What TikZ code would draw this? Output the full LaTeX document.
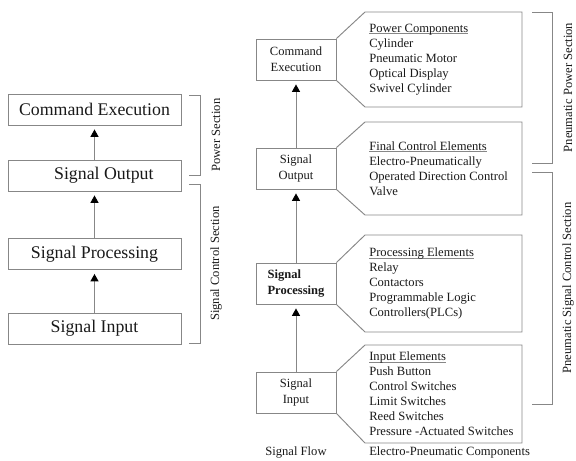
\documentclass[tikz,border=0pt]{standalone}
\usepackage{fontspec}
\setmainfont{Liberation Serif}
\usetikzlibrary{arrows.meta}
\definecolor{linegray}{RGB}{135,135,135}
\definecolor{inkc}{RGB}{25,25,25}
\newcommand\myul[1]{\setbox0\hbox{#1}\rlap{\color{linegray}\rule[-1.4pt]{\wd0}{0.5pt}}\box0}
\begin{document}
\begin{tikzpicture}[x=0.75pt,y=-0.75pt,
  every node/.style={text=inkc},
  lbox/.style={draw=linegray, line width=0.7pt, minimum width=129.75pt, minimum height=23.25pt, inner sep=0pt, font=\fontsize{13.35}{16}\selectfont},
  rbox/.style={draw=linegray, line width=0.7pt, minimum width=60pt, minimum height=30.75pt, inner sep=0pt, align=center, font=\fontsize{9.4}{12}\selectfont},
  callout/.style={draw=linegray, line width=0.7pt},
  ctext/.style={anchor=west, align=left, inner sep=0pt, font=\fontsize{9.45}{11.3}\selectfont},
  small/.style={inner sep=0pt, font=\fontsize{9.45}{11.3}\selectfont},
  bracket/.style={draw=linegray, line width=0.7pt},
  flow/.style={draw=linegray, line width=0.7pt, shorten >=3pt, -{Triangle[color=black, width=6pt, length=5.5pt]}}
]
\useasboundingbox (0,0) rectangle (576,461);

% ---- left: signal flow ----
\node[lbox] (lce) at (94.5,109.5) {Command Execution};
\node[lbox] (lso) at (94.5,175.5) {\hspace*{14pt}Signal Output};
\node[lbox] (lsp) at (94.5,254) {Signal Processing};
\node[lbox] (lsi) at (94.5,328.5) {Signal Input};
\draw[flow] (lso.north) -- (lce.south);
\draw[flow] (lsp.north) -- (lso.south);
\draw[flow] (lsi.north) -- (lsp.south);

\draw[bracket] (189,95) -- (200,95) -- (200,175) -- (189,175);
\draw[bracket] (189,184) -- (200,184) -- (200,343) -- (189,343);
\node[small, rotate=90] (lpow) at (216,135) {Power Section};
\node[small, rotate=90] (lsig) at (216,263.5) {Signal Control Section};

% ---- right: boxes ----
\node[rbox] (rce) at (296,59.5) {Command\\Execution};
\node[rbox] (rso) at (296,168.5) {Signal\\Output};
\node[rbox, align=left, font=\fontsize{9.4}{12}\selectfont\bfseries] (rsp) at (296,283.5) {Signal\\Processing};
\node[rbox] (rsi) at (296,392.5) {Signal\\Input};
\draw[flow] (rso.north) -- (rce.south);
\draw[flow] (rsp.north) -- (rso.south);
\draw[flow] (rsi.north) -- (rsp.south);

% ---- callouts ----
\draw[callout] (rce.north east) -- (365,12) -- (522,12) -- (522,107) -- (365,107) -- (rce.south east);
\draw[callout] (rso.north east) -- (365,122) -- (522,122) -- (522,215) -- (365,215) -- (rso.south east);
\draw[callout] (rsp.north east) -- (365,235) -- (522,235) -- (522,332) -- (365,332) -- (rsp.south east);
\draw[callout] (rsi.north east) -- (365,345) -- (522,345) -- (522,443) -- (365,443) -- (rsi.south east);

\node[ctext] (t1) at (369,59.5) {\myul{Power Components}\\Cylinder\\Pneumatic Motor\\Optical Display\\Swivel Cylinder};
\node[ctext] (t2) at (369,168.5) {\myul{Final Control Elements}\\Electro-Pneumatically\\Operated Direction Control\\Valve};
\node[ctext] (t3) at (369,283.5) {\myul{Processing Elements}\\Relay\\Contactors\\Programmable Logic\\Controllers(PLCs)};
\node[ctext] (t4) at (369,394) {\myul{Input Elements}\\Push Button\\Control Switches\\Limit Switches\\Reed Switches\\Pressure -Actuated Switches};

% ---- right brackets ----
\draw[bracket] (532,12) -- (552,12) -- (552,163) -- (532,163);
\draw[bracket] (532,172) -- (552,172) -- (552,404) -- (532,404);
\node[small, rotate=90] (rpow) at (568,87.5) {Pneumatic Power Section};
\node[small, rotate=90] (rsig) at (568,288) {Pneumatic Signal Control Section};

% ---- bottom labels ----
\node[small] (sflow) at (296,452) {Signal Flow};
\node[small, anchor=west] (epc) at (369,452) {Electro-Pneumatic Components};
\end{tikzpicture}
\end{document}
